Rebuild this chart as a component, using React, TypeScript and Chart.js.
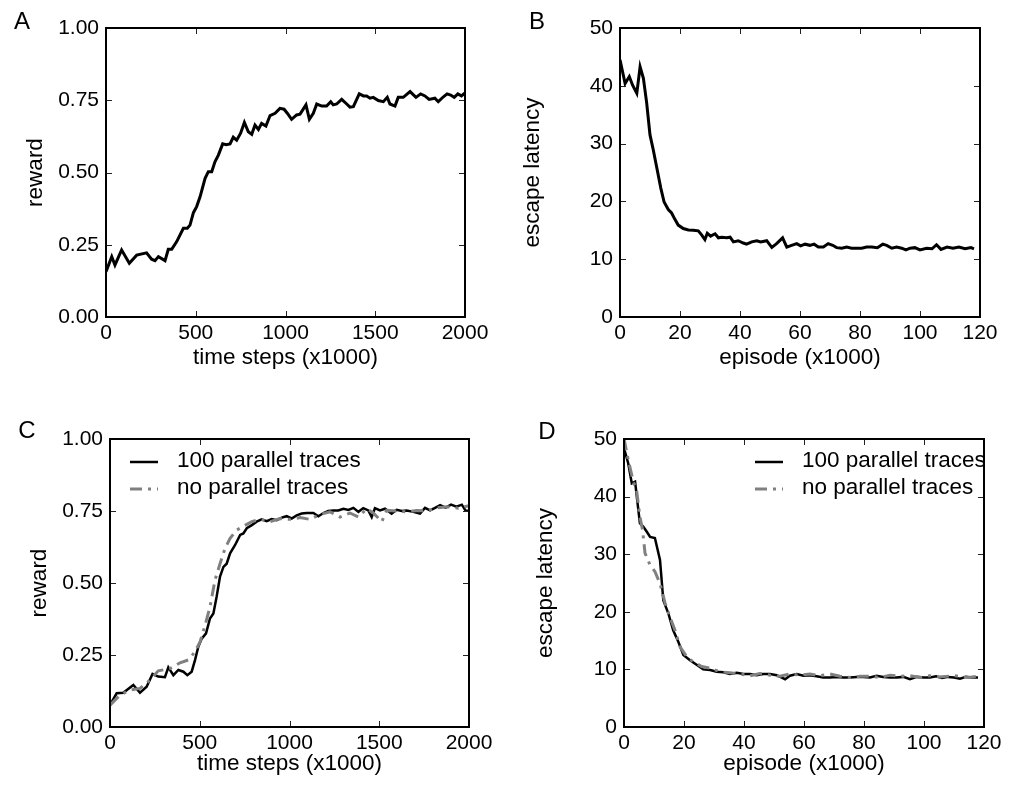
import React, { useEffect, useRef } from 'react';
import { Chart, registerables } from 'chart.js';
Chart.register(...registerables);

// ---------- DATA ----------
const stepsA = [0, 32, 50, 87, 130, 171, 226, 254, 273, 292, 329, 347, 366, 394, 431, 453, 468, 487, 505, 524, 552, 570, 589, 607, 626, 650, 669, 691, 709, 728, 750, 771, 793, 812, 830, 849, 867, 891, 914, 942, 969, 992, 1010, 1034, 1062, 1081, 1114, 1133, 1155, 1174, 1202, 1229, 1252, 1266, 1285, 1313, 1341, 1359, 1378, 1411, 1434, 1452, 1471, 1489, 1517, 1545, 1567, 1582, 1610, 1628, 1656, 1694, 1727, 1753, 1777, 1800, 1832, 1851, 1880, 1900, 1920, 1940, 1960, 1980, 2000];
const rewardA = [0.157, 0.209, 0.18, 0.232, 0.186, 0.214, 0.222, 0.2, 0.195, 0.209, 0.195, 0.234, 0.234, 0.261, 0.307, 0.307, 0.318, 0.361, 0.382, 0.416, 0.48, 0.503, 0.503, 0.537, 0.56, 0.599, 0.596, 0.599, 0.622, 0.612, 0.636, 0.673, 0.641, 0.632, 0.664, 0.649, 0.67, 0.661, 0.697, 0.705, 0.722, 0.719, 0.705, 0.684, 0.699, 0.702, 0.734, 0.684, 0.705, 0.737, 0.73, 0.73, 0.745, 0.734, 0.737, 0.753, 0.737, 0.726, 0.728, 0.772, 0.765, 0.765, 0.757, 0.76, 0.749, 0.745, 0.76, 0.737, 0.73, 0.76, 0.76, 0.78, 0.76, 0.772, 0.765, 0.753, 0.757, 0.745, 0.762, 0.772, 0.768, 0.76, 0.772, 0.765, 0.775];

const episodesB = [0, 1.7, 3.1, 4.2, 5.6, 6.7, 7.8, 8.9, 10, 11.1, 12.2, 13.6, 14.7, 16.1, 17.2, 18.3, 19.4, 21.1, 22.8, 24.4, 26.1, 27.2, 28.3, 29.1, 30.2, 31.7, 32.8, 33.9, 35.6, 36.7, 37.8, 39.4, 41.1, 42.2, 43.9, 45.6, 46.9, 48.9, 50.6, 52.2, 54.2, 55.6, 57.2, 58.9, 60.2, 61.7, 63.3, 64.7, 66.1, 67.8, 69.4, 70.9, 72.2, 73.9, 75.6, 77.2, 78.9, 80.6, 82.2, 83.9, 85.8, 87.6, 88.9, 90.6, 92.2, 93.9, 95.3, 96.7, 98.3, 100, 102.2, 104, 105.5, 107, 109, 111, 113, 115, 117, 118];
const latencyB = [44.5, 40.4, 41.6, 40.1, 38.7, 43.3, 41.3, 37, 31.5, 28.9, 26, 22.3, 19.9, 18.6, 18, 16.9, 15.9, 15.3, 15.05, 15, 14.9, 14.2, 13.4, 14.5, 14.0, 14.4, 13.7, 13.8, 13.7, 13.8, 13.0, 13.2, 12.8, 12.6, 13, 13.2, 13, 13.2, 12.05, 12.7, 13.7, 12.1, 12.4, 12.7, 12.3, 12.6, 12.4, 12.6, 12.1, 12.1, 12.7, 12.4, 12.0, 11.9, 12.1, 11.9, 11.9, 11.9, 12.1, 12.1, 12.0, 12.6, 12.4, 11.9, 12.1, 11.9, 11.6, 11.9, 12.0, 11.6, 11.9, 11.8, 12.5, 11.7, 12.1, 11.9, 12.1, 11.8, 12.0, 11.8];

const stepsCParallel = [0, 37, 74, 130, 167, 204, 237, 269, 306, 325, 353, 381, 409, 431, 455, 474, 492, 511, 535, 557, 576, 594, 613, 632, 650, 669, 697, 725, 743, 762, 790, 817, 845, 873, 901, 929, 957, 984, 1012, 1040, 1068, 1096, 1133, 1161, 1189, 1216, 1244, 1272, 1300, 1328, 1356, 1384, 1411, 1439, 1458, 1476, 1504, 1532, 1569, 1597, 1625, 1653, 1690, 1727, 1755, 1783, 1811, 1839, 1870, 1900, 1930, 1960, 1980, 2000];
const rewardCParallel = [0.076, 0.117, 0.119, 0.146, 0.119, 0.14, 0.184, 0.175, 0.173, 0.207, 0.18, 0.198, 0.192, 0.18, 0.192, 0.233, 0.279, 0.307, 0.325, 0.377, 0.394, 0.452, 0.522, 0.556, 0.567, 0.603, 0.632, 0.667, 0.672, 0.69, 0.701, 0.713, 0.721, 0.715, 0.722, 0.718, 0.727, 0.732, 0.724, 0.735, 0.741, 0.743, 0.743, 0.732, 0.743, 0.75, 0.752, 0.752, 0.758, 0.754, 0.761, 0.747, 0.76, 0.752, 0.729, 0.76, 0.752, 0.758, 0.741, 0.754, 0.75, 0.752, 0.747, 0.741, 0.761, 0.752, 0.761, 0.77, 0.762, 0.772, 0.765, 0.772, 0.752, 0.75];
const stepsCNoParallel = [0, 56, 111, 167, 223, 269, 334, 390, 437, 474, 502, 530, 557, 585, 613, 641, 669, 706, 743, 790, 836, 892, 947, 1003, 1059, 1114, 1170, 1226, 1281, 1337, 1384, 1430, 1467, 1514, 1541, 1597, 1653, 1708, 1764, 1820, 1880, 1940, 2000];
const rewardCNoParallel = [0.076, 0.111, 0.128, 0.134, 0.163, 0.195, 0.203, 0.223, 0.233, 0.262, 0.296, 0.354, 0.417, 0.51, 0.567, 0.62, 0.655, 0.684, 0.697, 0.713, 0.721, 0.713, 0.724, 0.721, 0.727, 0.721, 0.738, 0.747, 0.729, 0.743, 0.729, 0.758, 0.743, 0.713, 0.752, 0.75, 0.747, 0.752, 0.75, 0.761, 0.765, 0.76, 0.768];

const episodesDParallel = [0, 1.4, 2.6, 3.7, 4.4, 5.3, 6.4, 7.6, 8.7, 10.3, 12, 13.1, 14.8, 16.4, 18.1, 19.8, 22, 24.2, 26.4, 28.7, 30.9, 33.1, 35.3, 37.6, 39.8, 42, 44.2, 46.4, 48.7, 50.9, 53.7, 55.3, 57.6, 59.8, 62, 64.2, 66.4, 68.7, 70.9, 73.1, 75.3, 77.6, 79.8, 82, 84.2, 86.4, 88.7, 90.9, 93.1, 95.3, 97.6, 99.8, 102, 104, 106, 108, 110, 112, 114, 116, 118];
const latencyDParallel = [48.4, 45.8, 42.3, 42.6, 39.4, 35.4, 34.8, 33.9, 33, 32.8, 29, 22, 19.7, 16.8, 14.8, 12.5, 11.6, 10.8, 10.0, 9.9, 9.6, 9.5, 9.2, 9.4, 9.2, 9.2, 9.0, 9.2, 9.2, 9.0, 8.3, 8.9, 9.2, 8.9, 9.0, 8.8, 8.6, 8.6, 8.7, 8.6, 8.6, 8.7, 8.7, 8.6, 8.9, 8.7, 8.6, 8.6, 8.7, 8.3, 8.7, 8.6, 8.6, 8.8, 8.5, 8.7, 8.6, 8.4, 8.7, 8.6, 8.6];
const episodesDNoParallel = [0, 1.4, 3.1, 4.2, 5.3, 6.2, 7, 8.7, 10.3, 12, 13.7, 15.3, 17, 18.7, 20.9, 23.1, 25.9, 28.7, 32, 35.3, 38.7, 42, 45.3, 48.7, 52, 55.3, 58.7, 62, 65.3, 68.7, 72, 75.3, 78.7, 82, 85.3, 88.7, 92, 95.3, 98.7, 102, 105, 110, 115, 118];
const latencyDNoParallel = [50.1, 46.4, 42.6, 41.1, 36.5, 34.2, 30.2, 28.1, 27, 24.9, 21.5, 19.1, 16.8, 13.9, 12.2, 11.3, 10.5, 10.2, 9.6, 9.4, 9.2, 8.9, 9.3, 9.0, 8.8, 9.2, 9.0, 9.2, 8.9, 9.2, 8.8, 8.6, 8.8, 8.8, 8.6, 9.0, 8.8, 8.9, 8.6, 8.9, 8.7, 8.9, 8.6, 8.8];

const stepTicks = [0, 500, 1000, 1500, 2000];
const stepTickLabels = ['0', '500', '1000', '1500', '2000'];
const episodeTicks = [0, 20, 40, 60, 80, 100, 120];
const episodeTickLabels = ['0', '20', '40', '60', '80', '100', '120'];
const rewardTicks = [0, 0.25, 0.5, 0.75, 1];
const rewardTickLabels = ['0.00', '0.25', '0.50', '0.75', '1.00'];
const latencyTicks = [0, 10, 20, 30, 40, 50];
const latencyTickLabels = ['0', '10', '20', '30', '40', '50'];

const seriesLabels = ['100 parallel traces', 'no parallel traces'];
const panelLetters = ['A', 'B', 'C', 'D'];
const xTitles = ['time steps (x1000)', 'episode (x1000)', 'time steps (x1000)', 'episode (x1000)'];
const yTitles = ['reward', 'escape latency', 'reward', 'escape latency'];

// ---------- STYLE ----------
const FONT = '"Liberation Sans", Arial, Helvetica, sans-serif';
const TICK_SIZE = 21;
const TITLE_SIZE = 22.5;
const LEGEND_SIZE = 22.5;
const LETTER_SIZE = 24;
const CW = 505;
const CH = 393;
const GRAY = '#808080';

const pts = (xs: number[], ys: number[]) => xs.map((x, i) => ({ x, y: ys[i] }));

type Panel = {
  cx: number; cy: number;
  area: { l: number; t: number; r: number; b: number };
  yTitleX: number; xTitleY: number;
  letter: string; letterX: number; letterY: number;
  xTitle: string; yTitle: string;
  xMax: number; yMax: number;
  xTicks: number[]; xLabels: string[];
  yTicks: number[]; yLabels: string[];
  datasets: any[];
  legend?: { dx: number; dy: number };
};

const blackLine = (data: any[], label: string, w: number) => ({
  label, data, borderColor: '#000', borderWidth: w, pointRadius: 0, tension: 0, fill: false, order: 2,
  borderCapStyle: 'butt', borderJoinStyle: 'miter',
});
const grayLine = (data: any[], label: string) => ({
  label, data, borderColor: GRAY, borderWidth: 3, borderDash: [12, 6, 3, 6], pointRadius: 0, tension: 0, fill: false, order: 1,
  borderCapStyle: 'butt',
});

const panels: Panel[] = [
  {
    cx: 0, cy: 0, area: { l: 106, t: 28, r: 465, b: 317 }, yTitleX: 36, xTitleY: 358,
    letter: panelLetters[0], letterX: 22, letterY: 22, xTitle: xTitles[0], yTitle: yTitles[0],
    xMax: 2000, yMax: 1, xTicks: stepTicks, xLabels: stepTickLabels, yTicks: rewardTicks, yLabels: rewardTickLabels,
    datasets: [blackLine(pts(stepsA, rewardA), 'reward', 3)],
  },
  {
    cx: 505, cy: 0, area: { l: 620, t: 28, r: 980, b: 317 }, yTitleX: 533, xTitleY: 358,
    letter: panelLetters[1], letterX: 537, letterY: 22, xTitle: xTitles[1], yTitle: yTitles[1],
    xMax: 120, yMax: 50, xTicks: episodeTicks, xLabels: episodeTickLabels, yTicks: latencyTicks, yLabels: latencyTickLabels,
    datasets: [blackLine(pts(episodesB, latencyB), 'escape latency', 3)],
  },
  {
    cx: 0, cy: 393, area: { l: 110, t: 439, r: 469, b: 727 }, yTitleX: 40, xTitleY: 764,
    letter: panelLetters[2], letterX: 27, letterY: 431, xTitle: xTitles[2], yTitle: yTitles[2],
    xMax: 2000, yMax: 1, xTicks: stepTicks, xLabels: stepTickLabels, yTicks: rewardTicks, yLabels: rewardTickLabels,
    datasets: [
      blackLine(pts(stepsCParallel, rewardCParallel), seriesLabels[0], 2.5),
      grayLine(pts(stepsCNoParallel, rewardCNoParallel), seriesLabels[1]),
    ],
    legend: { dx: 20, dy: 23 },
  },
  {
    cx: 505, cy: 393, area: { l: 624, t: 439, r: 984, b: 727 }, yTitleX: 546, xTitleY: 764,
    letter: panelLetters[3], letterX: 547, letterY: 432, xTitle: xTitles[3], yTitle: yTitles[3],
    xMax: 120, yMax: 50, xTicks: episodeTicks, xLabels: episodeTickLabels, yTicks: latencyTicks, yLabels: latencyTickLabels,
    datasets: [
      blackLine(pts(episodesDParallel, latencyDParallel), seriesLabels[0], 2.5),
      grayLine(pts(episodesDNoParallel, latencyDNoParallel), seriesLabels[1]),
    ],
    legend: { dx: 131, dy: 23 },
  },
];

const framePlugin = {
  id: 'frame',
  afterDatasetsDraw(chart: any, _args: any, opts: any) {
    const { ctx, chartArea: a, scales } = chart;
    ctx.save();
    // inward ticks on all four sides
    const tl = 6;
    ctx.strokeStyle = '#222';
    ctx.lineWidth = 1;
    ctx.beginPath();
    scales.x.ticks.forEach((t: any) => {
      const px = Math.round(scales.x.getPixelForValue(t.value)) + 0.5;
      ctx.moveTo(px, a.bottom); ctx.lineTo(px, a.bottom - tl);
      ctx.moveTo(px, a.top); ctx.lineTo(px, a.top + tl);
    });
    scales.y.ticks.forEach((t: any) => {
      const py = Math.round(scales.y.getPixelForValue(t.value)) + 0.5;
      ctx.moveTo(a.left, py); ctx.lineTo(a.left + tl, py);
      ctx.moveTo(a.right, py); ctx.lineTo(a.right - tl, py);
    });
    ctx.stroke();
    // frame
    ctx.strokeStyle = '#000';
    ctx.lineWidth = 2;
    ctx.strokeRect(a.left, a.top, a.right - a.left, a.bottom - a.top);
    // legend
    if (opts.legend) {
      const items = chart.data.datasets;
      ctx.font = `${LEGEND_SIZE}px ${FONT}`;
      ctx.textBaseline = 'middle';
      ctx.textAlign = 'left';
      items.forEach((ds: any, i: number) => {
        const y = Math.round(a.top + opts.legend.dy + i * 27);
        const x0 = a.left + opts.legend.dx;
        ctx.save();
        ctx.strokeStyle = ds.borderColor;
        ctx.lineWidth = ds.borderWidth;
        ctx.setLineDash(ds.borderDash || []);
        ctx.lineCap = 'butt';
        ctx.beginPath();
        ctx.moveTo(x0, y); ctx.lineTo(x0 + 28, y);
        ctx.stroke();
        ctx.restore();
        ctx.fillStyle = '#000';
        ctx.fillText(ds.label, x0 + 47, y - 1);
      });
    }
    // panel letter
    ctx.font = `${LETTER_SIZE}px ${FONT}`;
    ctx.fillStyle = '#000';
    ctx.textAlign = 'center';
    ctx.textBaseline = 'middle';
    ctx.fillText(opts.letter, opts.letterX, opts.letterY);
    ctx.restore();
  },
};

function makeConfig(p: Panel): any {
  const halfTitle = (TITLE_SIZE * 1.2) / 2;
  const padLeft = p.yTitleX - p.cx - halfTitle;
  const yWidth = p.area.l - p.cx - padLeft;
  const padTop = p.area.t - p.cy;
  const padRight = p.cx + CW - p.area.r;
  const padBottom = p.cy + CH - (p.xTitleY + halfTitle);
  const xHeight = p.xTitleY + halfTitle - p.area.b;
  return {
    type: 'line',
    data: { datasets: p.datasets },
    plugins: [framePlugin],
    options: {
      animation: false,
      responsive: false,
      devicePixelRatio: 1,
      layout: { padding: { left: padLeft, top: padTop, right: padRight, bottom: padBottom } },
      plugins: {
        legend: { display: false },
        tooltip: { enabled: false },
        title: { display: false },
        frame: {
          letter: p.letter, letterX: p.letterX - p.cx, letterY: p.letterY - p.cy,
          legend: p.legend,
        },
      },
      scales: {
        x: {
          type: 'linear', min: 0, max: p.xMax,
          grid: { display: false, drawTicks: false },
          border: { display: false },
          afterBuildTicks: (s: any) => { s.ticks = p.xTicks.map((v) => ({ value: v })); },
          afterFit: (s: any) => { s.height = xHeight; },
          ticks: {
            color: '#000', padding: 4, maxRotation: 0, autoSkip: false,
            font: { family: FONT, size: TICK_SIZE },
            callback: (_v: any, i: number) => p.xLabels[i],
          },
          title: {
            display: true, text: p.xTitle, color: '#000', padding: 0,
            font: { family: FONT, size: TITLE_SIZE, lineHeight: 1.2 },
          },
        },
        y: {
          type: 'linear', min: 0, max: p.yMax,
          grid: { display: false, drawTicks: false },
          border: { display: false },
          afterBuildTicks: (s: any) => { s.ticks = p.yTicks.map((v) => ({ value: v })); },
          afterFit: (s: any) => { s.width = yWidth; },
          ticks: {
            color: '#000', padding: 7, autoSkip: false,
            font: { family: FONT, size: TICK_SIZE },
            callback: (_v: any, i: number) => p.yLabels[i],
          },
          title: {
            display: true, text: p.yTitle, color: '#000', padding: 0,
            font: { family: FONT, size: TITLE_SIZE, lineHeight: 1.2 },
          },
        },
      },
    },
  };
}

export default function App() {
  const refs = useRef<(HTMLCanvasElement | null)[]>([]);
  useEffect(() => {
    const charts = panels.map((p, i) => new Chart(refs.current[i] as HTMLCanvasElement, makeConfig(p)));
    return () => charts.forEach((c) => c.destroy());
  }, []);
  return (
    <div style={{ position: 'fixed', left: 0, top: 0, width: 1010, height: 786, background: '#fff' }}>
      {panels.map((p, i) => (
        <canvas
          key={i}
          ref={(el) => { refs.current[i] = el; }}
          width={CW}
          height={CH}
          style={{ position: 'absolute', left: p.cx, top: p.cy, width: CW, height: CH }}
        />
      ))}
    </div>
  );
}
